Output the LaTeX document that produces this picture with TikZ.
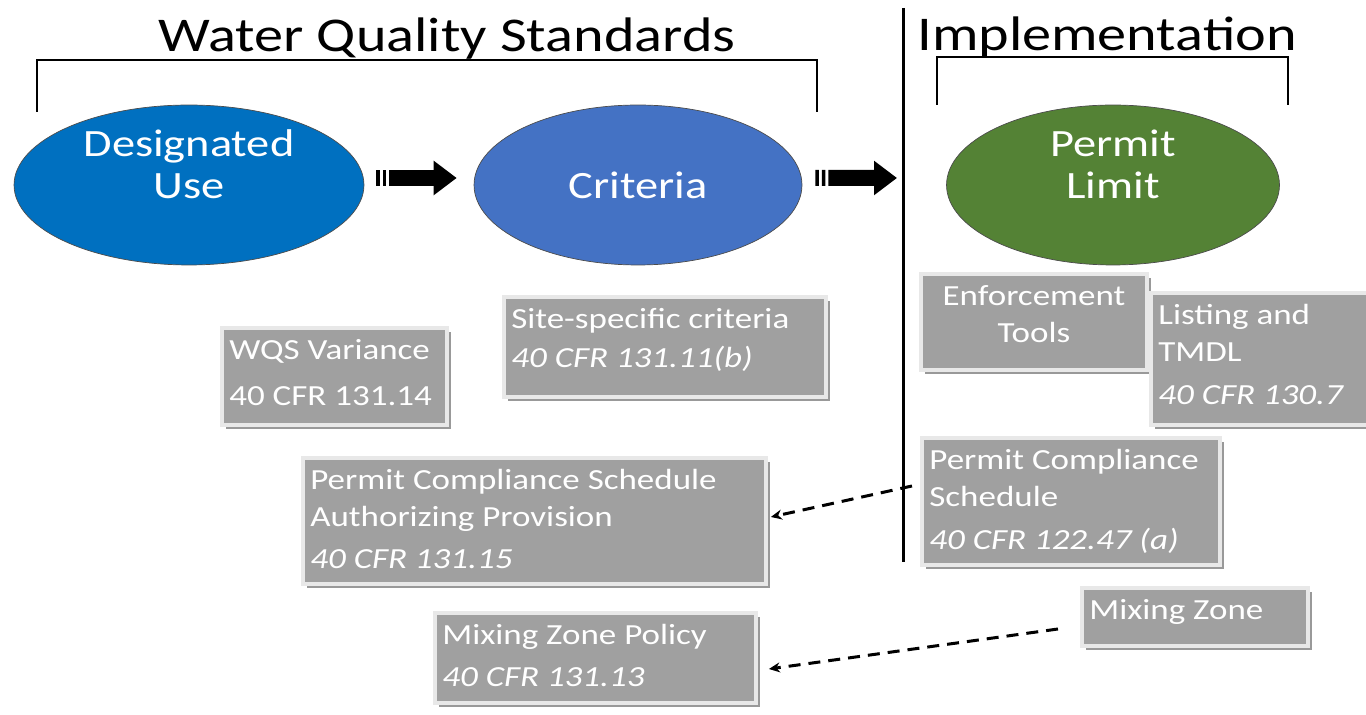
\documentclass[tikz,border=0pt]{standalone}
\usepackage{fontspec}
\setmainfont{Carlito}[FakeStretch=1.2]
\usetikzlibrary{shapes.geometric, arrows.meta, positioning, shadows}
\definecolor{usecolor}{RGB}{0, 112, 192}
\definecolor{critcolor}{RGB}{68, 114, 196}
\definecolor{limitcolor}{RGB}{84, 130, 53}
\definecolor{boxgray}{RGB}{160, 160, 160}
\definecolor{boxedge}{RGB}{232, 232, 232}
\tikzstyle{goal} = [ellipse, draw=black!70, line width=0.4pt, inner sep=0pt, minimum height=3.2cm]
\tikzstyle{goaltext} = [align=center, text=white, font=\fontsize{22}{24}\selectfont]
\tikzstyle{cfrbox} = [rectangle, anchor=north west, fill=boxgray, draw=boxedge, line width=0.8mm, inner sep=0pt,
                      drop shadow={shadow xshift=0.8mm, shadow yshift=-0.8mm, fill=black!40, opacity=1}]
\tikzstyle{cfrtext} = [anchor=north west, align=left, inner sep=0pt, text=white,
                       font=\fontsize{16.6}{21}\selectfont, execute at begin node=\strut]
\tikzstyle{heading} = [anchor=base, font=\fontsize{27.6}{32}\selectfont]
\tikzstyle{bigarrow} = [line width=3.2mm, dash pattern=on 0.7mm off 0.6mm on 0.7mm off 0.6mm on 40mm off 0mm,
                        -{Triangle[length=4.6mm, width=6.6mm]}]
\tikzstyle{link} = [line width=0.6mm, dash pattern=on 2.4mm off 1.6mm, -{Stealth[length=2.2mm, width=2mm]}]

\begin{document}
\begin{tikzpicture}[x=0.02cm, y=-0.02cm]
    \useasboundingbox (0,0) rectangle (1366,715);

    % Headings
    \node[heading] (wqs) at (447,52) {Water Quality Standards};
    \node[heading] (impl) at (1107,51) {Implementation};
    \draw[line width=0.4mm] (37,112) -- (37,60) -- (817,60) -- (817,112);
    \draw[line width=0.4mm] (937,105) -- (937,57) -- (1288,57) -- (1288,105);
    \draw[line width=0.6mm] (903,8) -- (903,562);

    % Goals
    \node[goal, fill=usecolor, minimum width=7cm] (use) at (189,185) {};
    \node[goal, fill=critcolor, minimum width=6.56cm] (crit) at (638,185) {};
    \node[goal, fill=limitcolor, minimum width=6.66cm] (limit) at (1113,185) {};
    \node[goaltext] (usetext) at (189,164) {Designated\\Use};
    \node[goaltext] (crittext) at (638,185) {Criteria};
    \node[goaltext] (limittext) at (1113,164) {Permit\\Limit};
    \coordinate (wall) at (897,178);

    \draw[bigarrow] ([xshift=2.4mm, yshift=1.4mm]use.east) -- ([xshift=-3.4mm, yshift=1.4mm]crit.west);
    \draw[bigarrow] ([xshift=2.6mm, yshift=1.4mm]crit.east) -- (wall);

    % Regulation boxes
    \node[cfrbox, minimum width=4.5cm, minimum height=1.94cm] (variance) at (220,326) {};
    \node[cfrtext, below right=2.6mm and 1.8mm of variance.north west] (variancetext)
        {WQS Variance\\[5pt]40 CFR 131.14};
    \node[cfrbox, minimum width=6.44cm, minimum height=2cm] (site) at (502,295) {};
    \node[cfrtext, below right=2.6mm and 1.8mm of site.north west] (sitetext)
        {Site-specific criteria\\[1pt]\textit{40 CFR 131.11(b)}};
    \node[cfrbox, minimum width=4.52cm, minimum height=1.92cm] (enforce) at (919,272) {};
    \node[cfrtext, align=center, below=2.6mm of enforce.north] (enforcetext) {Enforcement\\Tools};
    \node[cfrbox, minimum width=4.68cm, minimum height=2.64cm] (listing) at (1149,291) {};
    \node[cfrtext, below right=2.6mm and 1.8mm of listing.north west] (listingtext)
        {Listing and\\TMDL\\[3.5pt]\textit{40 CFR 130.7}};
    \node[cfrbox, minimum width=5.96cm, minimum height=2.54cm] (sched) at (920,436) {};
    \node[cfrtext, below right=2.6mm and 1.8mm of sched.north west] (schedtext)
        {Permit Compliance\\Schedule\\[3.5pt]\textit{40 CFR 122.47 (a)}};
    \node[cfrbox, minimum width=9.26cm, minimum height=2.52cm] (auth) at (301,456) {};
    \node[cfrtext, below right=2.6mm and 1.8mm of auth.north west] (authtext)
        {Permit Compliance Schedule\\Authorizing Provision\\[3pt]\textit{40 CFR 131.15}};
    \node[cfrbox, minimum width=4.52cm, minimum height=1.16cm] (mixing) at (1080,586) {};
    \node[cfrtext, below right=1.4mm and 1.8mm of mixing.north west] (mixingtext) {Mixing Zone};
    \node[cfrbox, minimum width=6.42cm, minimum height=1.8cm] (policy) at (433,611) {};
    \node[cfrtext, below right=2.6mm and 1.8mm of policy.north west] (policytext)
        {Mixing Zone Policy\\[3pt]\textit{40 CFR 131.13}};

    % Links
    \draw[link] ([xshift=-1.6mm, yshift=3.1mm]sched.west) -- ([xshift=0.6mm, yshift=0.8mm]auth.east);
    \draw[link] ([xshift=-4.4mm, yshift=-2.4mm]mixing.west) -- ([xshift=2.2mm, yshift=-2.2mm]policy.east);
\end{tikzpicture}
\end{document}
